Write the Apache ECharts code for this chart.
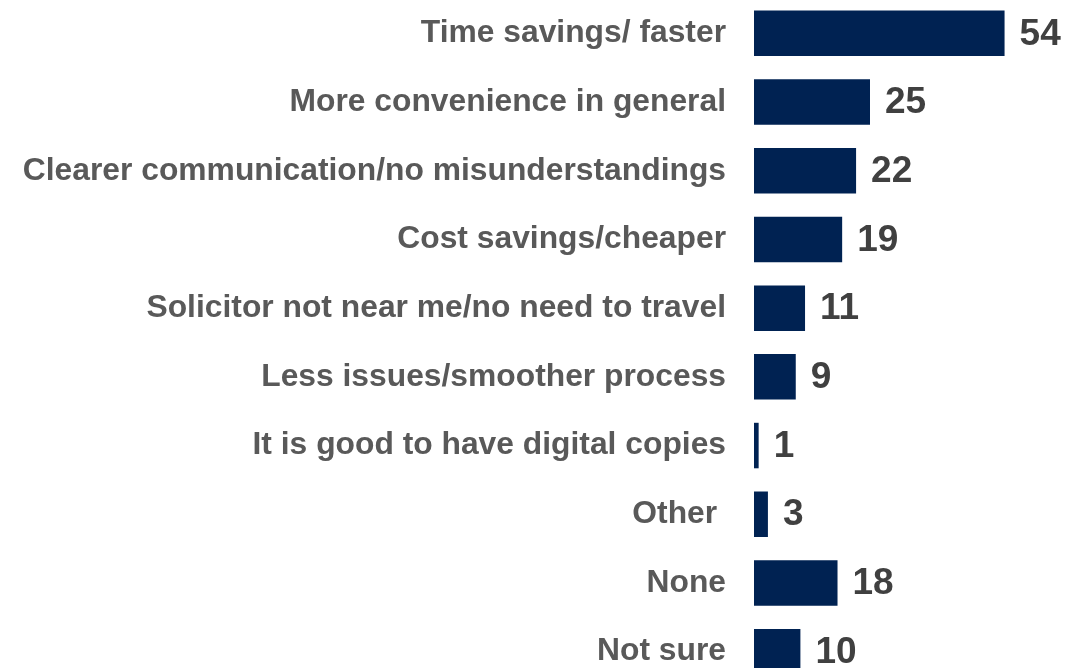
<!DOCTYPE html>
<html>
<head>
<meta charset="utf-8">
<script src="https://cdn.jsdelivr.net/npm/echarts@6/dist/echarts.min.js"></script>
<style>
  html, body { margin: 0; padding: 0; background: #ffffff; overflow: hidden; width: 1069px; height: 668px; }
  /* plot area runs a little past the page edges so the last row is cut at the bottom */
  #chart { position: absolute; left: 0; top: -1.5px; width: 1069px; height: 687px; }
</style>
</head>
<body>
<div id="chart"></div>
<script>
// Reasons given, listed top to bottom
const categories = [
  'Time savings/ faster',
  'More convenience in general',
  'Clearer communication/no misunderstandings',
  'Cost savings/cheaper',
  'Solicitor not near me/no need to travel',
  'Less issues/smoother process',
  'It is good to have digital copies',
  'Other ',
  'None',
  'Not sure'
];
// Share of respondents (%)
const values = [54, 25, 22, 19, 11, 9, 1, 3, 18, 10];

const chart = echarts.init(document.getElementById('chart'), null, { renderer: 'canvas' });

chart.setOption({
  animation: false,
  backgroundColor: '#ffffff',
  grid: {
    left: 754,
    right: 36.6,
    top: 0,
    bottom: 0,
    containLabel: false
  },
  xAxis: {
    type: 'value',
    min: 0,
    max: 60,
    show: false
  },
  yAxis: {
    type: 'category',
    data: categories,
    inverse: true,
    axisLine: { show: false },
    axisTick: { show: false },
    splitLine: { show: false },
    axisLabel: {
      margin: 28,
      fontFamily: 'Liberation Sans, Arial, sans-serif',
      fontWeight: 'bold',
      fontSize: 31.8,
      color: '#595959'
    }
  },
  series: [{
    type: 'bar',
    data: values,
    barWidth: 45.5,
    itemStyle: { color: '#002252' },
    label: {
      show: true,
      position: 'right',
      distance: 15,
      offset: [0, 1],
      fontFamily: 'Liberation Sans, Arial, sans-serif',
      fontWeight: 'bold',
      fontSize: 37,
      color: '#404040'
    }
  }]
});
</script>
</body>
</html>
